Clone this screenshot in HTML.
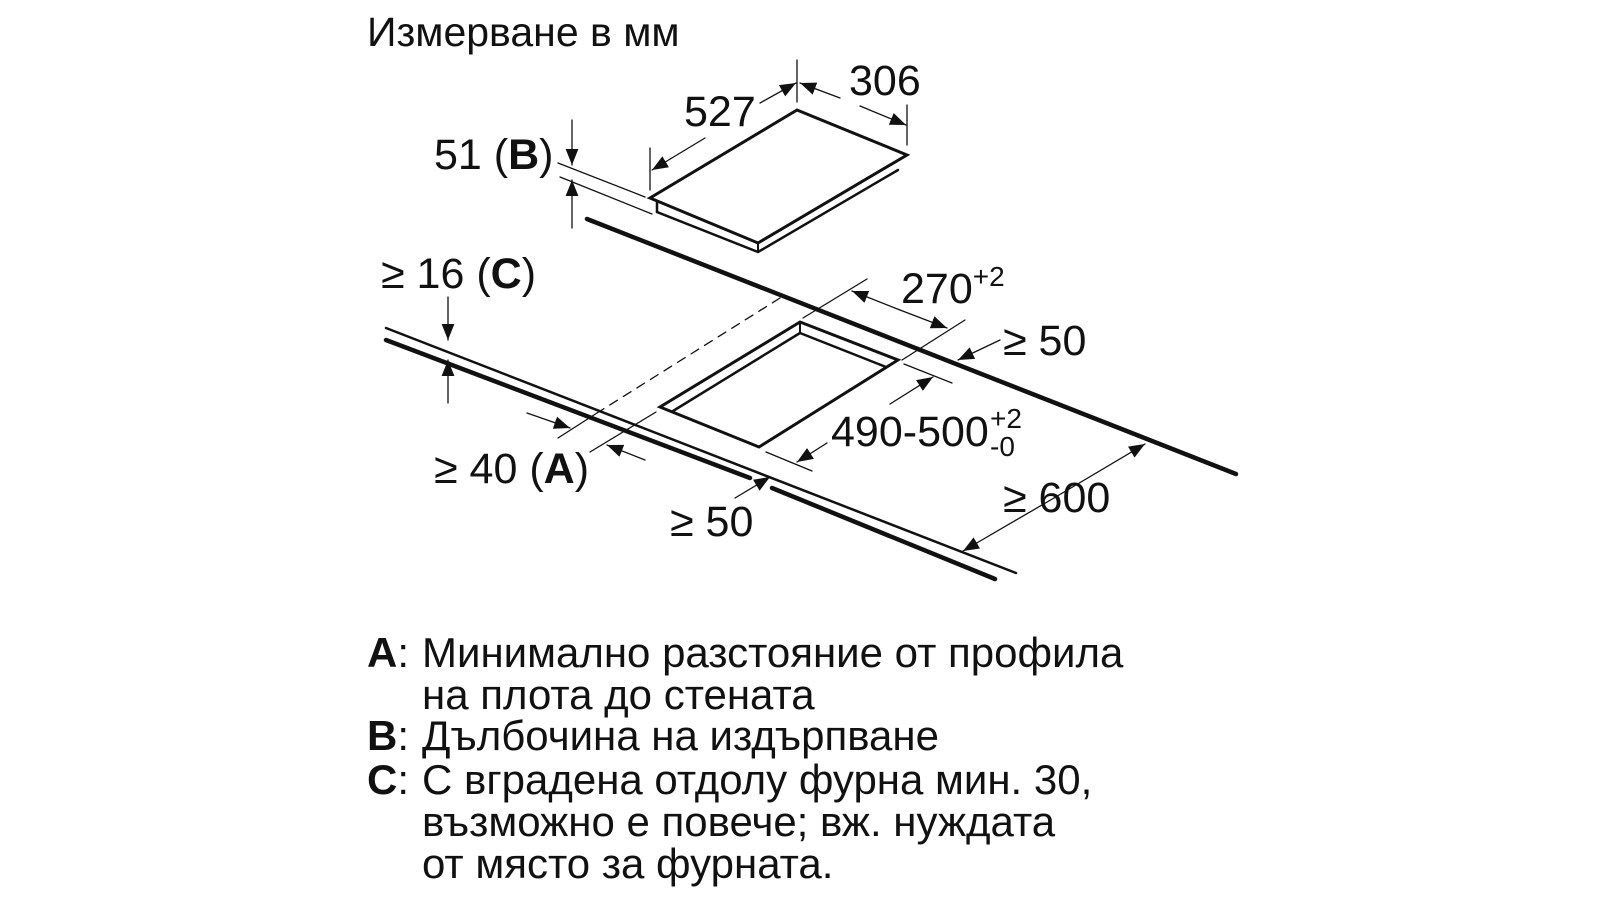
<!DOCTYPE html>
<html><head><meta charset="utf-8"><style>
html,body{margin:0;padding:0;background:#fff;}
svg{display:block;}
text{font-family:"Liberation Sans",sans-serif;fill:#111;}
</style></head><body>
<svg width="1600" height="900" viewBox="0 0 1600 900" xmlns="http://www.w3.org/2000/svg">
<defs>
<marker id="a" viewBox="0 0 10 10" refX="10" refY="5" markerWidth="16" markerHeight="16" markerUnits="userSpaceOnUse" orient="auto"><path d="M0,1 L10,5 L0,9 z" fill="#111"/></marker>
</defs>
<text x="367" y="46" font-size="41">Измерване в мм</text>
<g stroke="#111" fill="none" stroke-linecap="round">
<!-- hob -->
<path d="M797,110 L907,155 L758,243 L650,198 Z" stroke-width="3"/>
<path d="M657,202 L657,212 L758,252 L898,170" stroke-width="2.5"/>
<line x1="758" y1="243" x2="758" y2="252" stroke-width="2"/>
<!-- worktop upper -->
<line x1="587" y1="219" x2="1236" y2="474" stroke-width="4.5"/>
<!-- worktop lower -->
<line x1="386" y1="328" x2="1016" y2="573" stroke-width="2.5"/>
<line x1="386" y1="340" x2="750" y2="478" stroke-width="4.5"/>
<line x1="772" y1="488" x2="995" y2="579" stroke-width="4.5"/>
<!-- cutout -->
<path d="M800,322 L898,360 L759,447 L660,407 Z" stroke-width="3"/>
<path d="M800,333 L886,367 M673,411 L800,333" stroke-width="2.5"/>
<line x1="800" y1="322" x2="800" y2="333" stroke-width="2"/>
<line x1="780" y1="298" x2="597" y2="413" stroke-width="1.3" stroke-dasharray="9,7"/>
<!-- thin dims -->
<g stroke-width="1.3">
<line x1="797" y1="60" x2="797" y2="102"/>
<line x1="650" y1="148" x2="650" y2="190"/>
<line x1="907" y1="105" x2="907" y2="145"/>
<line x1="558" y1="163" x2="645" y2="197"/>
<line x1="560" y1="177" x2="652" y2="214"/>
<line x1="867" y1="279" x2="803" y2="318"/>
<line x1="965" y1="320" x2="902" y2="360"/>
<line x1="904" y1="364" x2="952" y2="383"/>
<line x1="766" y1="452" x2="812" y2="471"/>
<line x1="558" y1="438" x2="597" y2="413"/>
<line x1="590" y1="452" x2="656" y2="412"/>
<line x1="705" y1="138" x2="652" y2="170" marker-end="url(#a)"/>
<line x1="760" y1="103" x2="796" y2="83" marker-end="url(#a)"/>
<line x1="840" y1="98" x2="800" y2="83" marker-end="url(#a)"/>
<line x1="860" y1="106" x2="906" y2="125" marker-end="url(#a)"/>
<line x1="572" y1="120" x2="572" y2="165" marker-end="url(#a)"/>
<line x1="572" y1="228" x2="572" y2="180" marker-end="url(#a)"/>
<line x1="900" y1="310" x2="852" y2="291" marker-end="url(#a)"/>
<line x1="900" y1="310" x2="947" y2="328" marker-end="url(#a)"/>
<line x1="1000" y1="340" x2="958" y2="360" marker-end="url(#a)"/>
<line x1="890" y1="404" x2="933" y2="377" marker-end="url(#a)"/>
<line x1="827" y1="443" x2="797" y2="462" marker-end="url(#a)"/>
<line x1="527" y1="413" x2="570" y2="428" marker-end="url(#a)"/>
<line x1="645" y1="460" x2="607" y2="445" marker-end="url(#a)"/>
<line x1="448" y1="297" x2="448" y2="340" marker-end="url(#a)"/>
<line x1="448" y1="403" x2="448" y2="360" marker-end="url(#a)"/>
<line x1="735" y1="498" x2="770" y2="477" marker-end="url(#a)"/>
<line x1="1054" y1="498" x2="1145" y2="444" marker-end="url(#a)"/>
<line x1="1054" y1="498" x2="963" y2="551" marker-end="url(#a)"/>
</g>
</g>
<g font-size="43">
<text x="849" y="95">306</text>
<text x="684" y="126">527</text>
<text x="434" y="169">51 (<tspan font-weight="bold">B</tspan>)</text>
<text x="381" y="288">≥ 16 (<tspan font-weight="bold">C</tspan>)</text>
<text x="901" y="303">270<tspan font-size="28" dy="-17">+2</tspan></text>
<text x="1003" y="355">≥ 50</text>
<text x="831" y="446">490-500</text>
<text x="990" y="428" font-size="28">+2</text>
<text x="990" y="456" font-size="28">-0</text>
<text x="434" y="483">≥ 40 (<tspan font-weight="bold">A</tspan>)</text>
<text x="670" y="536">≥ 50</text>
<text x="1003" y="512">≥ 600</text>
</g>
<g font-size="42">
<text x="367" y="667"><tspan font-weight="bold">A</tspan>:</text><text x="422" y="667">Минимално разстояние от профила</text>
<text x="422" y="709">на плота до стената</text>
<text x="367" y="750"><tspan font-weight="bold">B</tspan>:</text><text x="422" y="750">Дълбочина на издърпване</text>
<text x="367" y="794"><tspan font-weight="bold">C</tspan>:</text><text x="422" y="794">С вградена отдолу фурна мин. 30,</text>
<text x="422" y="836">възможно е повече; вж. нуждата</text>
<text x="422" y="878">от място за фурната.</text>
</g>
</svg>
</body></html>
